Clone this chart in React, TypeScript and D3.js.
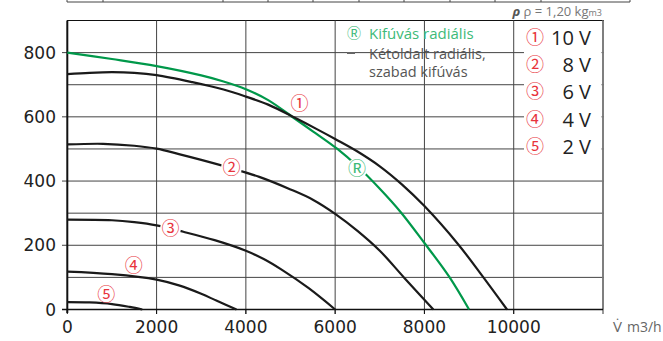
import React from "react";
import * as d3 from "d3";

// ---- data ----
const xTicks = [0, 2000, 4000, 6000, 8000, 10000];
const yTicks = [0, 200, 400, 600, 800];
const yGrid = [100, 200, 300, 400, 500, 600, 700, 800, 900];
const xGrid = [2000, 4000, 6000, 8000, 10000, 12000];

const flow10 = [0, 500, 1000, 1500, 2000, 2800, 3500, 4000, 4500, 5100, 5600, 6000, 6500, 7000, 7500, 8000, 8750, 9300, 9850];
const pres10 = [733, 737, 739, 737, 730, 708, 685, 663, 638, 597, 561, 531, 492, 446, 389, 322, 204, 104, 0];

const flow8 = [0, 800, 1500, 2000, 2500, 3000, 3700, 4300, 5000, 5500, 6000, 6500, 7000, 7540, 8200];
const pres8 = [514, 516, 510, 501, 484, 466, 439, 413, 374, 342, 298, 245, 183, 100, 0];

const flow6 = [0, 1000, 1500, 2000, 2600, 3300, 4000, 4400, 4800, 5400, 6000];
const pres6 = [280, 278, 272, 262, 242, 216, 183, 157, 124, 67, 0];

const flow4 = [0, 1000, 2000, 2500, 3000, 3350, 3790];
const pres4 = [118, 110, 93, 75, 49, 27, 0];

const flow2 = [0, 500, 1000, 1400, 1680];
const pres2 = [23, 22, 17, 8, 0];

const flowR = [0, 1000, 2000, 3000, 3500, 4000, 4500, 5100, 5500, 6050, 6500, 7000, 7470, 8000, 8550, 9000];
const presR = [800, 780, 758, 729, 710, 686, 652, 594, 555, 500, 446, 376, 303, 207, 103, 0];

const voltLabels = ["\u2460", "\u2461", "\u2462", "\u2463", "\u2464"];
const voltTexts = ["10 V", "8 V", "6 V", "4 V", "2 V"];
// curve label anchors [flow, pressure]
const labelFlow = [5200, 3680, 2310, 1490, 875];
const labelPres = [643, 442, 251, 137, 47];
const labelBreak = [false, true, true, false, false];
const rLabelFlow = 6490;
const rLabelPres = 439;

const tableX = [67, 103, 223, 268, 313, 359, 404, 450, 495, 541, 630];

const RED = "#e8343c";
const GREEN = "#00984a";
const GREEN_TXT = "#3dba78";

export default function App() {
  const W = 663, H = 341;
  const x = d3.scaleLinear().domain([0, 12000]).range([67.3, 603]);
  const y = d3.scaleLinear().domain([0, 900]).range([309.5, 20.5]);

  const line = d3
    .line<[number, number]>()
    .x((d) => x(d[0]))
    .y((d) => y(d[1]))
    .curve(d3.curveCatmullRom.alpha(0.5));

  const series = [
    { f: flow10, p: pres10 },
    { f: flow8, p: pres8 },
    { f: flow6, p: pres6 },
    { f: flow4, p: pres4 },
    { f: flow2, p: pres2 },
  ];
  const mk = (f: number[], p: number[]) => f.map((v, i) => [v, p[i]] as [number, number]);

  const tickFont = "'DejaVu Sans', sans-serif";
  const lgFont = "'Open Sans', sans-serif";
  const cjk = "'Noto Sans CJK JP', sans-serif";

  return (
    <svg width={W} height={H} style={{ position: "absolute", left: 0, top: 0, background: "#fff" }}>
      {/* top table fragment */}
      <line x1={tableX[0]} x2={tableX[tableX.length - 1]} y1={2} y2={2} stroke="#444" strokeWidth={1} />
      {tableX.map((tx, i) => (
        <line key={"tb" + i} x1={tx} x2={tx} y1={0} y2={2} stroke="#444" strokeWidth={1} />
      ))}
      <text x={602} y={16} textAnchor="end" fill="#777" fontFamily={lgFont} fontSize={13}>
        <tspan fontStyle="italic" fontWeight="bold" fill="#555">ρ</tspan>
        <tspan> ρ = 1,20 kg</tspan>
        <tspan fontSize={9}>m3</tspan>
      </text>

      {/* grid */}
      {yGrid.map((g) => (
        <line key={"yg" + g} x1={g % 200 === 0 ? 62 : 67} x2={604} y1={y(g)} y2={y(g)} stroke={g === 900 ? "#111" : "#444"} strokeWidth={1} />
      ))}
      {xGrid.map((g) => (
        <line key={"xg" + g} x1={x(g)} x2={x(g)} y1={y(900)} y2={314} stroke={g === 12000 ? "#777" : "#444"} strokeWidth={g === 12000 ? 1.5 : 1} />
      ))}

      {/* right legend box */}
      <rect x={524} y={y(900) + 0.8} width={77.5} height={148} fill="#fff" />
      <line x1={x(12000)} x2={x(12000)} y1={y(900)} y2={y(0)} stroke="#777" strokeWidth={1.5} />

      {/* axes */}
      <line x1={x(0)} x2={x(0)} y1={y(900)} y2={313} stroke="#111" strokeWidth={2} />
      <line x1={62} x2={x(12000)} y1={y(0)} y2={y(0)} stroke="#111" strokeWidth={1.5} />
      {xTicks.map((t) => (
        <line key={"xt" + t} x1={x(t)} x2={x(t)} y1={y(0)} y2={314} stroke="#111" strokeWidth={1} />
      ))}
      {yTicks.map((t) => (
        <text key={"yl" + t} x={56} y={y(t) + 6} textAnchor="end" fontFamily={tickFont} fontSize={17} fill="#222">
          {t}
        </text>
      ))}
      {xTicks.map((t) => (
        <text key={"xl" + t} x={x(t)} y={333} textAnchor="middle" fontFamily={tickFont} fontSize={17} fill="#222">
          {t}
        </text>
      ))}
      <text x={613} y={332} fontFamily={lgFont} fontSize={15} fill="#666">
        {"V\u0307"}
        <tspan dx={5} fontSize={14}>m3/h</tspan>
      </text>

      {/* curves */}
      <path d={line(mk(flowR, presR)) || ""} fill="none" stroke={GREEN} strokeWidth={2.2} />
      {series.map((s, i) => (
        <path key={"c" + i} d={line(mk(s.f, s.p)) || ""} fill="none" stroke="#1a1a1a" strokeWidth={2.2} />
      ))}

      {/* curve labels */}
      {voltLabels.map((lab, i) => (
        <g key={"lab" + i}>
          {labelBreak[i] && <circle cx={x(labelFlow[i])} cy={y(labelPres[i])} r={10.5} fill="#fff" />}
          <text x={x(labelFlow[i])} y={y(labelPres[i]) + 6.5} textAnchor="middle" fontFamily={cjk} fontSize={18} fill={RED}>
            {lab}
          </text>
        </g>
      ))}
      <circle cx={x(rLabelFlow)} cy={y(rLabelPres)} r={10.5} fill="#fff" />
      <text x={x(rLabelFlow)} y={y(rLabelPres) + 6.5} textAnchor="middle" fontFamily={cjk} fontSize={18} fill={GREEN_TXT}>
        {"\u24C7"}
      </text>

      {/* middle legend */}
      <text x={347} y={38} fontFamily={cjk} fontSize={14} fill={GREEN_TXT}>{"\u24C7"}</text>
      <text x={369} y={39} fontFamily={lgFont} fontSize={15} fill={GREEN_TXT}>Kifúvás radiális</text>
      <line x1={347} x2={355} y1={53} y2={53} stroke="#666" strokeWidth={2} />
      <text x={369} y={58.5} fontFamily={lgFont} fontSize={14.5} fill="#555">Kétoldalt radiális,</text>
      <text x={369} y={77} fontFamily={lgFont} fontSize={14.5} fill="#555">szabad kifúvás</text>

      {/* right legend */}
      {voltTexts.map((t, i) => (
        <g key={"rl" + i}>
          <text x={535} y={37.5 + i * 27.2 + 6.5} textAnchor="middle" fontFamily={cjk} fontSize={18} fill={RED}>
            {voltLabels[i]}
          </text>
          <text x={591} y={37.5 + i * 27.2 + 7.5} textAnchor="end" fontFamily={lgFont} fontSize={20} fill="#222">
            {t}
          </text>
        </g>
      ))}
    </svg>
  );
}
